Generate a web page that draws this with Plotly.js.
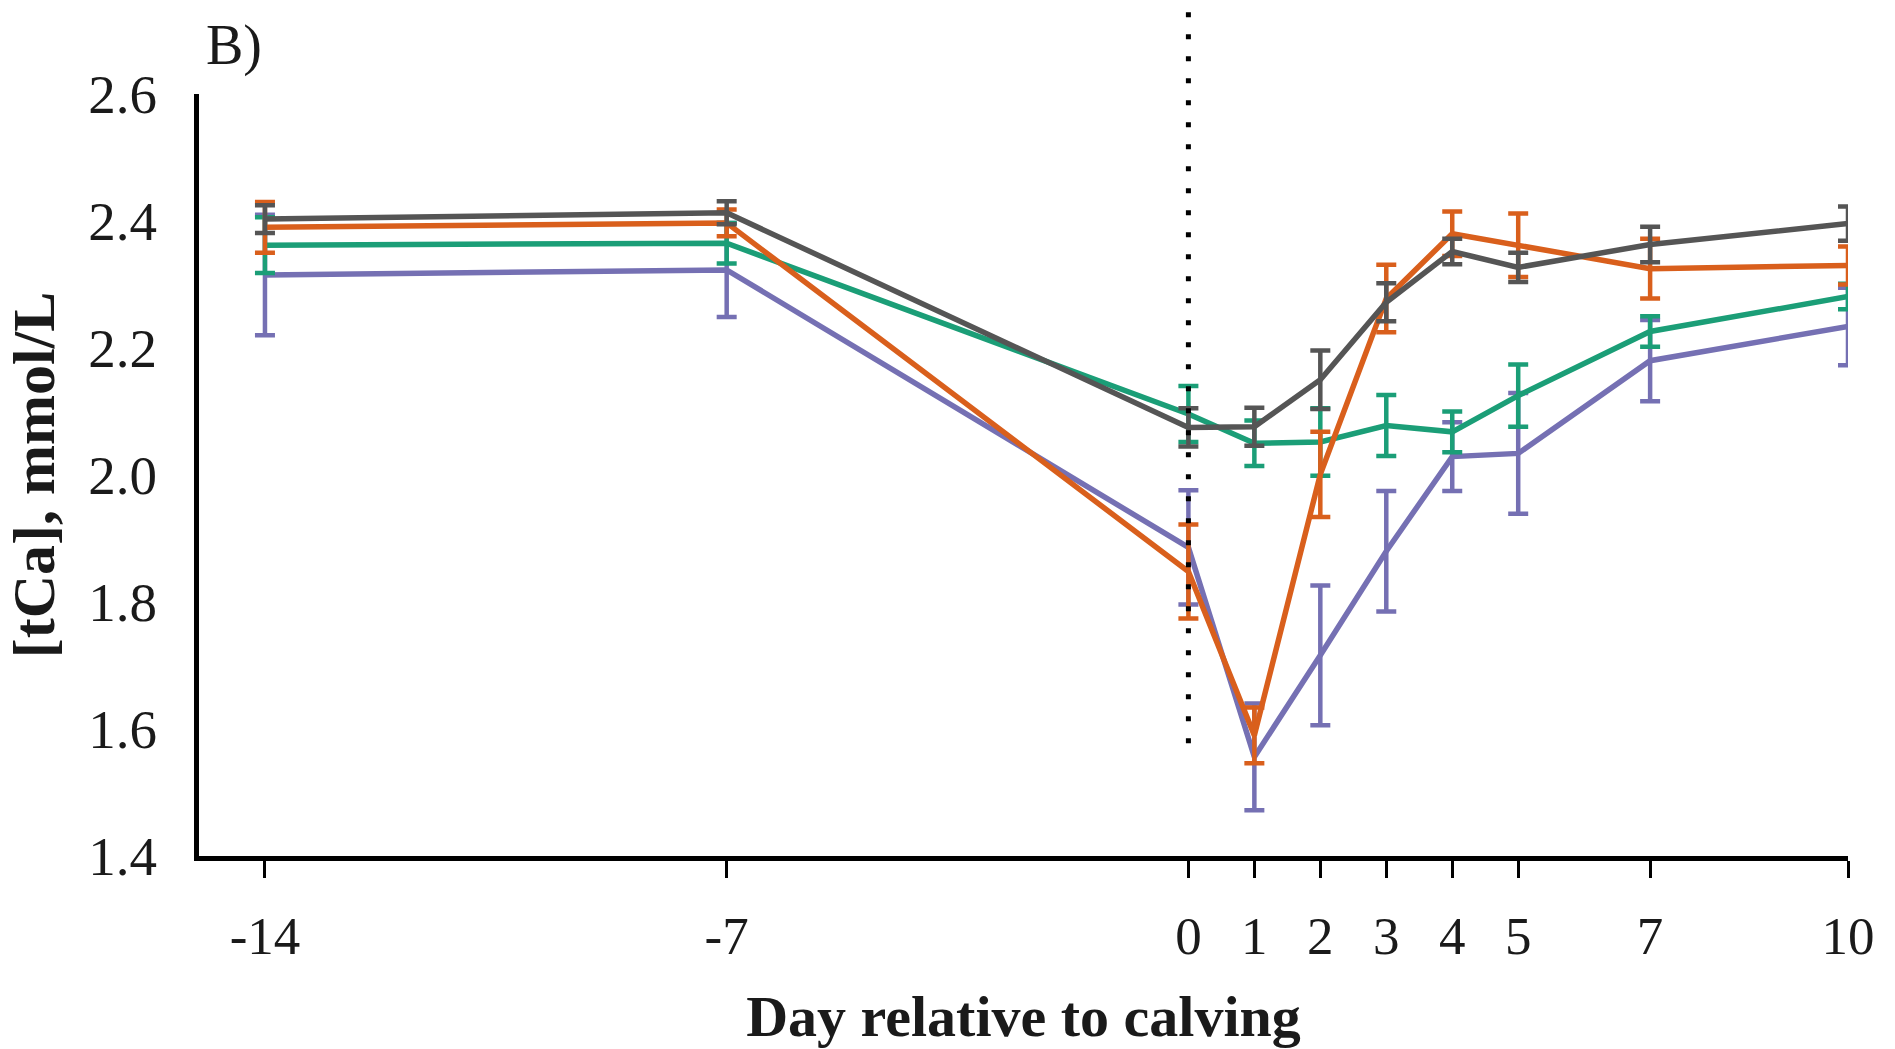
<!DOCTYPE html>
<html>
<head>
<meta charset="utf-8">
<script src="https://cdn.plot.ly/plotly-3.0.1.min.js"></script>
<style>
  html, body { margin: 0; padding: 0; background: #ffffff; }
  #chart { width: 1895px; height: 1049px; }
</style>
</head>
<body>
<div id="chart"></div>
<script>
// Day relative to calving
const days = [-14, -7, 0, 1, 2, 3, 4, 5, 7, 10];
const dayLabels = ['-14', '-7', '0', '1', '2', '3', '4', '5', '7', '10'];

// [tCa], mmol/L — means and SE for four groups
const grayMean   = [2.403, 2.413, 2.075, 2.076, 2.150, 2.272, 2.352, 2.327, 2.363, 2.396];
const grayErr    = [0.022, 0.018, 0.030, 0.030, 0.046, 0.030, 0.020, 0.023, 0.028, 0.027];

const orangeMean = [2.390, 2.397, 1.848, 1.590, 2.001, 2.278, 2.380, 2.362, 2.325, 2.330];
const orangeErr  = [0.040, 0.021, 0.074, 0.044, 0.067, 0.053, 0.035, 0.050, 0.047, 0.030];

const greenMean  = [2.362, 2.365, 2.096, 2.050, 2.052, 2.078, 2.068, 2.125, 2.226, 2.281];
const greenErr   = [0.044, 0.032, 0.044, 0.036, 0.053, 0.048, 0.032, 0.049, 0.024, 0.020];

const purpleMean = [2.315, 2.323, 1.886, 1.556, 1.716, 1.880, 2.029, 2.034, 2.180, 2.234];
const purpleErr  = [0.095, 0.074, 0.090, 0.084, 0.110, 0.095, 0.054, 0.095, 0.064, 0.061];

const yTicks = [1.4, 1.6, 1.8, 2.0, 2.2, 2.4, 2.6];
const yTickLabels = ['1.4', '1.6', '1.8', '2.0', '2.2', '2.4', '2.6'];

const serif = '"Liberation Serif", "Times New Roman", Times, serif';

function series(y, err, color, name) {
  return {
    x: days, y: y, name: name, type: 'scatter', mode: 'lines',
    line: { color: color, width: 5.5 },
    error_y: { type: 'data', array: err, visible: true, color: color, thickness: 4.5, width: 10 },
    hoverinfo: 'x+y'
  };
}

const data = [
  series(purpleMean, purpleErr, '#7570b3', 'Purple'),
  series(greenMean, greenErr, '#1b9e77', 'Green'),
  series(orangeMean, orangeErr, '#d95f1c', 'Orange'),
  series(grayMean, grayErr, '#555555', 'Gray')
];

const layout = {
  width: 1895, height: 1049,
  margin: { l: 199, r: 47, t: 94, b: 193 },
  paper_bgcolor: '#ffffff', plot_bgcolor: '#ffffff',
  showlegend: false,
  font: { family: serif, color: '#1a1a1a' },
  xaxis: {
    range: [-15, 10],
    tickmode: 'array', tickvals: days, ticktext: dayLabels,
    ticks: 'outside', ticklen: 17, tickwidth: 3, tickcolor: '#000000',
    showline: true, linecolor: '#000000', linewidth: 5,
    showgrid: false, zeroline: false,
    tickfont: { family: serif, size: 53, color: '#1a1a1a' },
    ticklabelstandoff: 12,
    title: { text: 'Day relative to calving', font: { family: serif, size: 58, color: '#1a1a1a', weight: 'bold' }, standoff: 34 }
  },
  yaxis: {
    range: [1.4, 2.6],
    tickmode: 'array', tickvals: yTicks, ticktext: yTickLabels,
    ticks: '', showline: true, linecolor: '#000000', linewidth: 5,
    showgrid: false, zeroline: false,
    tickfont: { family: serif, size: 55, color: '#1a1a1a' },
    ticklabelstandoff: 26,
    title: { text: '[tCa], mmol/L', font: { family: serif, size: 60, color: '#1a1a1a', weight: 'bold' }, standoff: 16 }
  },
  shapes: [{
    type: 'line', xref: 'x', yref: 'paper',
    x0: 0, x1: 0, y0: 0.148, y1: 1.125,
    line: { color: '#000000', width: 5, dash: '5px,17px' }
  }],
  annotations: [{
    text: 'B)', xref: 'paper', yref: 'paper', x: 0.003, y: 1.064,
    xanchor: 'left', yanchor: 'middle', showarrow: false,
    font: { family: serif, size: 56, color: '#1a1a1a' }
  }]
};

Plotly.newPlot('chart', data, layout, { displayModeBar: false, staticPlot: true });
</script>
</body>
</html>
